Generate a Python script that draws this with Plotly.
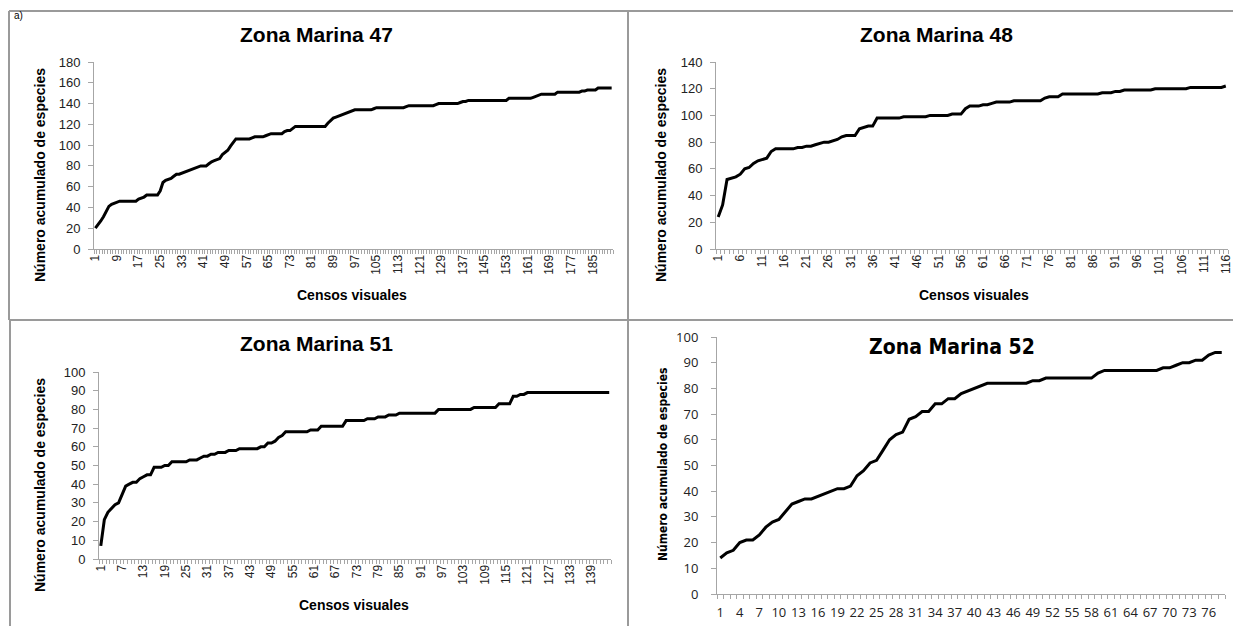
import plotly.graph_objects as go

W, H = 1241, 626
PAD = 8  # the page body margin offsets the figure by this much

# cumulative species per visual census
zm47 = [20, 23, 27, 31, 36, 41, 43, 44, 45, 46,
        46, 46, 46, 46, 46, 46, 48, 49, 50, 52,
        52, 52, 52, 52, 56, 64, 66, 67, 68, 70,
        72, 72, 73, 74, 75, 76, 77, 78, 79, 80,
        80, 80, 82, 84, 85, 86, 87, 91, 93, 95,
        99, 103, 106, 106, 106, 106, 106, 106, 107, 108,
        108, 108, 108, 109, 110, 111, 111, 111, 111, 111,
        113, 114, 114, 116, 118, 118, 118, 118, 118, 118,
        118, 118, 118, 118, 118, 118, 121, 124, 126, 127,
        128, 129, 130, 131, 132, 133, 134, 134, 134, 134,
        134, 134, 134, 135, 136, 136, 136, 136, 136, 136,
        136, 136, 136, 136, 136, 137, 138, 138, 138, 138,
        138, 138, 138, 138, 138, 138, 139, 140, 140, 140,
        140, 140, 140, 140, 140, 141, 142, 142, 143, 143,
        143, 143, 143, 143, 143, 143, 143, 143, 143, 143,
        143, 143, 143, 145, 145, 145, 145, 145, 145, 145,
        145, 145, 146, 147, 148, 149, 149, 149, 149, 149,
        149, 151, 151, 151, 151, 151, 151, 151, 151, 151,
        152, 152, 153, 153, 153, 153, 155, 155, 155, 155,
        155, 155]

zm48 = [24, 33, 52, 53, 54, 56, 60, 61, 64, 66,
        67, 68, 73, 75, 75, 75, 75, 75, 76, 76,
        77, 77, 78, 79, 80, 80, 81, 82, 84, 85,
        85, 85, 90, 91, 92, 92, 98, 98, 98, 98,
        98, 98, 99, 99, 99, 99, 99, 99, 100, 100,
        100, 100, 100, 101, 101, 101, 105, 107, 107, 107,
        108, 108, 109, 110, 110, 110, 110, 111, 111, 111,
        111, 111, 111, 111, 113, 114, 114, 114, 116, 116,
        116, 116, 116, 116, 116, 116, 116, 117, 117, 117,
        118, 118, 119, 119, 119, 119, 119, 119, 119, 120,
        120, 120, 120, 120, 120, 120, 120, 121, 121, 121,
        121, 121, 121, 121, 121, 122]

zm51 = [7, 21, 25, 27, 29, 30, 35, 39, 40, 41,
        41, 43, 44, 45, 45, 49, 49, 49, 50, 50,
        52, 52, 52, 52, 52, 53, 53, 53, 54, 55,
        55, 56, 56, 57, 57, 57, 58, 58, 58, 59,
        59, 59, 59, 59, 59, 60, 60, 62, 62, 63,
        65, 66, 68, 68, 68, 68, 68, 68, 68, 69,
        69, 69, 71, 71, 71, 71, 71, 71, 71, 74,
        74, 74, 74, 74, 74, 75, 75, 75, 76, 76,
        76, 77, 77, 77, 78, 78, 78, 78, 78, 78,
        78, 78, 78, 78, 78, 80, 80, 80, 80, 80,
        80, 80, 80, 80, 80, 81, 81, 81, 81, 81,
        81, 81, 83, 83, 83, 83, 87, 87, 88, 88,
        89, 89, 89, 89, 89, 89, 89, 89, 89, 89,
        89, 89, 89, 89, 89, 89, 89, 89, 89, 89,
        89, 89, 89, 89]

zm52 = [14, 16, 17, 20, 21, 21, 23, 26, 28, 29,
        32, 35, 36, 37, 37, 38, 39, 40, 41, 41,
        42, 46, 48, 51, 52, 56, 60, 62, 63, 68,
        69, 71, 71, 74, 74, 76, 76, 78, 79, 80,
        81, 82, 82, 82, 82, 82, 82, 82, 83, 83,
        84, 84, 84, 84, 84, 84, 84, 84, 86, 87,
        87, 87, 87, 87, 87, 87, 87, 87, 88, 88,
        89, 90, 90, 91, 91, 93, 94, 94]

titles = ['Zona Marina 47', 'Zona Marina 48', 'Zona Marina 51', 'Zona Marina 52']
series = [zm47, zm48, zm51, zm52]
label_step = [8, 5, 6, 3]
y_max = [180, 140, 100, 100]
y_step = [20, 20, 10, 10]

ytitle = 'Número acumulado de especies'
xtitle = 'Censos visuales'

ARIAL = 'Liberation Sans, Arial, sans-serif'
NARROW = 'DejaVu Sans Condensed, Liberation Sans Narrow, Arial Narrow, Liberation Sans, sans-serif'
GRAY = '#a6a6a6'

FW, FH = W - PAD, H - PAD


def fx(px):
    return (px - PAD) / FW


def fy(py):
    return 1 - (py - PAD) / FH


# plot boxes in page pixels: left, right, bottom (y=0), top (y=max)
boxes = [(94, 613, 249, 62), (716, 1228, 249, 62),
         (99, 611, 559, 372), (717, 1225, 594, 337)]

fig = go.Figure()
layout = {}
for i, (vals, box) in enumerate(zip(series, boxes)):
    n = i + 1
    sfx = '' if n == 1 else str(n)
    x = list(range(1, len(vals) + 1))
    fig.add_trace(go.Scatter(x=x, y=vals, mode='lines',
                             line=dict(color='black', width=3),
                             xaxis='x' + sfx, yaxis='y' + sfx,
                             showlegend=False, hoverinfo='x+y'))
    ticks = list(range(1, len(vals) + 1, label_step[i]))
    last = (i == 3)
    tfont = dict(family='Open Sans, sans-serif' if last else ARIAL,
                 size=13 if last else 12, color='#222')
    layout['xaxis' + sfx] = dict(
        domain=[fx(box[0]), fx(box[1])], range=[0.5, len(vals) + 0.5],
        anchor='y' + sfx, showline=True, linecolor=GRAY, linewidth=1,
        showgrid=False, zeroline=False, tickmode='array', tickvals=ticks,
        ticktext=[str(t) for t in ticks], ticks='', tickangle=0 if last else -90,
        tickfont=tfont, ticklabelstandoff=6 if last else 0,
        minor=dict(tick0=0.5, dtick=1, ticks='outside', ticklen=4,
                   tickcolor=GRAY, showgrid=False))
    layout['yaxis' + sfx] = dict(
        domain=[fy(box[2]), fy(box[3])], range=[0, y_max[i]], dtick=y_step[i],
        anchor='x' + sfx, showline=True, linecolor=GRAY, linewidth=1,
        showgrid=False, zeroline=False, ticks='outside', ticklen=5,
        tickcolor=GRAY, tickfont=dict(tfont, size=13),
        ticklabelstandoff=10 if last else 5)


def note(text, cx, cy, fam, sz, angle=0):
    return dict(text=text, x=fx(cx), y=fy(cy), xref='paper', yref='paper',
                xanchor='center', yanchor='middle', showarrow=False,
                textangle=angle, font=dict(family=fam, size=sz, color='black'))


ann = []
# panel titles
for t, (cx, cy), fam, sz in zip(titles, [(316, 34), (936, 34), (316, 343), (952, 347)],
                                [ARIAL, ARIAL, ARIAL, NARROW], [21, 21, 21, 21]):
    ann.append(note('<b>%s</b>' % t, cx, cy, fam, sz))
# y axis titles
for (cx, cy), fam, sz in zip([(40, 175), (661, 175), (40, 485), (663, 465)],
                             [ARIAL, ARIAL, ARIAL, NARROW], [14, 14, 14, 12]):
    ann.append(note('<b>%s</b>' % ytitle, cx, cy, fam, sz, -90))
# x axis titles (the fourth panel is cut off)
for cx, cy in [(352, 295), (974, 295), (354, 605)]:
    ann.append(note('<b>%s</b>' % xtitle, cx, cy, ARIAL, 14))
ann.append(dict(text='a)', x=fx(12), y=1, xref='paper', yref='paper',
                xanchor='left', yanchor='top', showarrow=False,
                font=dict(family=ARIAL, size=10, color='black')))

# panel frames
lines = [(9, 11, 1241, 11), (9, 320, 1241, 320), (9, 11, 9, 320),
         (10, 320, 10, 626), (628, 11, 628, 626)]
shapes = [dict(type='line', xref='paper', yref='paper', x0=fx(a), y0=fy(b),
               x1=fx(c), y1=fy(d), line=dict(color='#9a9a9a', width=2))
          for a, b, c, d in lines]

fig.update_layout(
    width=FW, height=FH, margin=dict(l=0, r=0, t=0, b=0, autoexpand=False),
    paper_bgcolor='white', plot_bgcolor='white',
    annotations=ann, shapes=shapes, **layout)

fig.write_html("out.html")
